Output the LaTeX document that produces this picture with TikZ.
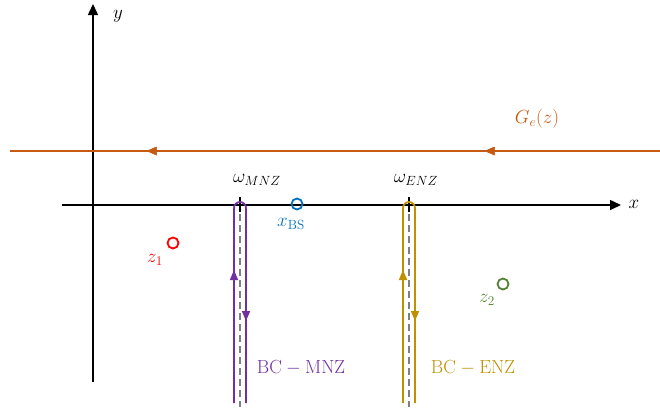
\documentclass[tikz,border=0pt]{standalone}
\usepackage{fix-cm}
\usetikzlibrary{arrows.meta,decorations.markings}
\definecolor{gline}{RGB}{197,90,17}
\definecolor{mnz}{RGB}{112,48,160}
\definecolor{enz}{RGB}{191,144,0}
\definecolor{bs}{RGB}{0,112,192}
\definecolor{zone}{RGB}{255,0,0}
\definecolor{ztwo}{RGB}{84,130,53}
\definecolor{dashgray}{RGB}{128,128,128}
\tikzset{
  axis/.style={line width=1.5pt,-{Triangle[length=11pt,width=10pt]}},
  lbl/.style={font=\fontsize{19}{22}\selectfont,inner sep=0pt},
  contour/.style={line width=1.7pt},
  midtip/.style={postaction={decorate},decoration={markings,mark=at position #1 with {\arrow{Triangle[length=10pt,width=8pt]}}}},
  pt/.style={circle,draw,line width=1.8pt,minimum size=11pt,inner sep=0pt},
  dashline/.style={draw=dashgray,line width=1.7pt,dash pattern=on 7pt off 4pt},
}
\begin{document}
\begin{tikzpicture}[x=1pt,y=-1pt]
\useasboundingbox (0,0) rectangle (660,407);
% axes
\coordinate (yb) at (93,382); \coordinate (yt) at (93,4);
\coordinate (xl) at (62,205); \coordinate (xr) at (621,205);
\draw[axis] (yb) -- (yt);
\draw[axis] (xl) -- (xr);
\node[lbl] (ylab) at (118,16) {$y$};
\node[lbl] (xlab) at (634,204) {$x$};
% G_e line
\coordinate (gr) at (660,151); \coordinate (gl) at (10,151);
\draw[gline,line width=1.7pt,midtip=0.27,midtip=0.79] (gr) -- (gl);
\node[lbl,text=gline] (glab) at (537,119) {$G_e(z)$};
% ticks
\draw[line width=1.5pt] (240,197) -- (240,212);
\draw[line width=1.5pt] (409,197) -- (409,212);
% dashed lines
\draw[dashline] (240,214) -- (240,407);
\draw[dashline] (409,214) -- (409,407);
% MNZ contour
\draw[mnz,contour] (234,403) -- (234,208) arc[start angle=180,end angle=360,radius=6] -- (246,403);
\draw[mnz,contour,midtip=0.5] (234,290) -- (234,250);
\draw[mnz,contour,midtip=0.5] (246,300) -- (246,342);
% ENZ contour
\draw[enz,contour] (403,403) -- (403,208) arc[start angle=180,end angle=360,radius=6] -- (415,403);
\draw[enz,contour,midtip=0.5] (403,290) -- (403,250);
\draw[enz,contour,midtip=0.5] (415,300) -- (415,342);
% labels
\node[lbl] (wm) at (257,180) {$\omega_{MNZ}$};
\node[lbl] (we) at (416,180) {$\omega_{ENZ}$};
\node[lbl,text=mnz] (bcm) at (301,368) {$\mathrm{BC}-\mathrm{MNZ}$};
\node[lbl,text=enz] (bce) at (473,368) {$\mathrm{BC}-\mathrm{ENZ}$};
% points
\node[pt,draw=bs] (xbs) at (297,204) {};
\node[lbl,text=bs] (xbslab) at (291,224) {$x_{\mathrm{BS}}$};
\node[pt,draw=zone] (z1) at (173,243) {};
\node[lbl,text=zone] (z1lab) at (155,260) {$z_1$};
\node[pt,draw=ztwo] (z2) at (503,284) {};
\node[lbl,text=ztwo] (z2lab) at (487,300) {$z_2$};
\end{tikzpicture}
\end{document}
